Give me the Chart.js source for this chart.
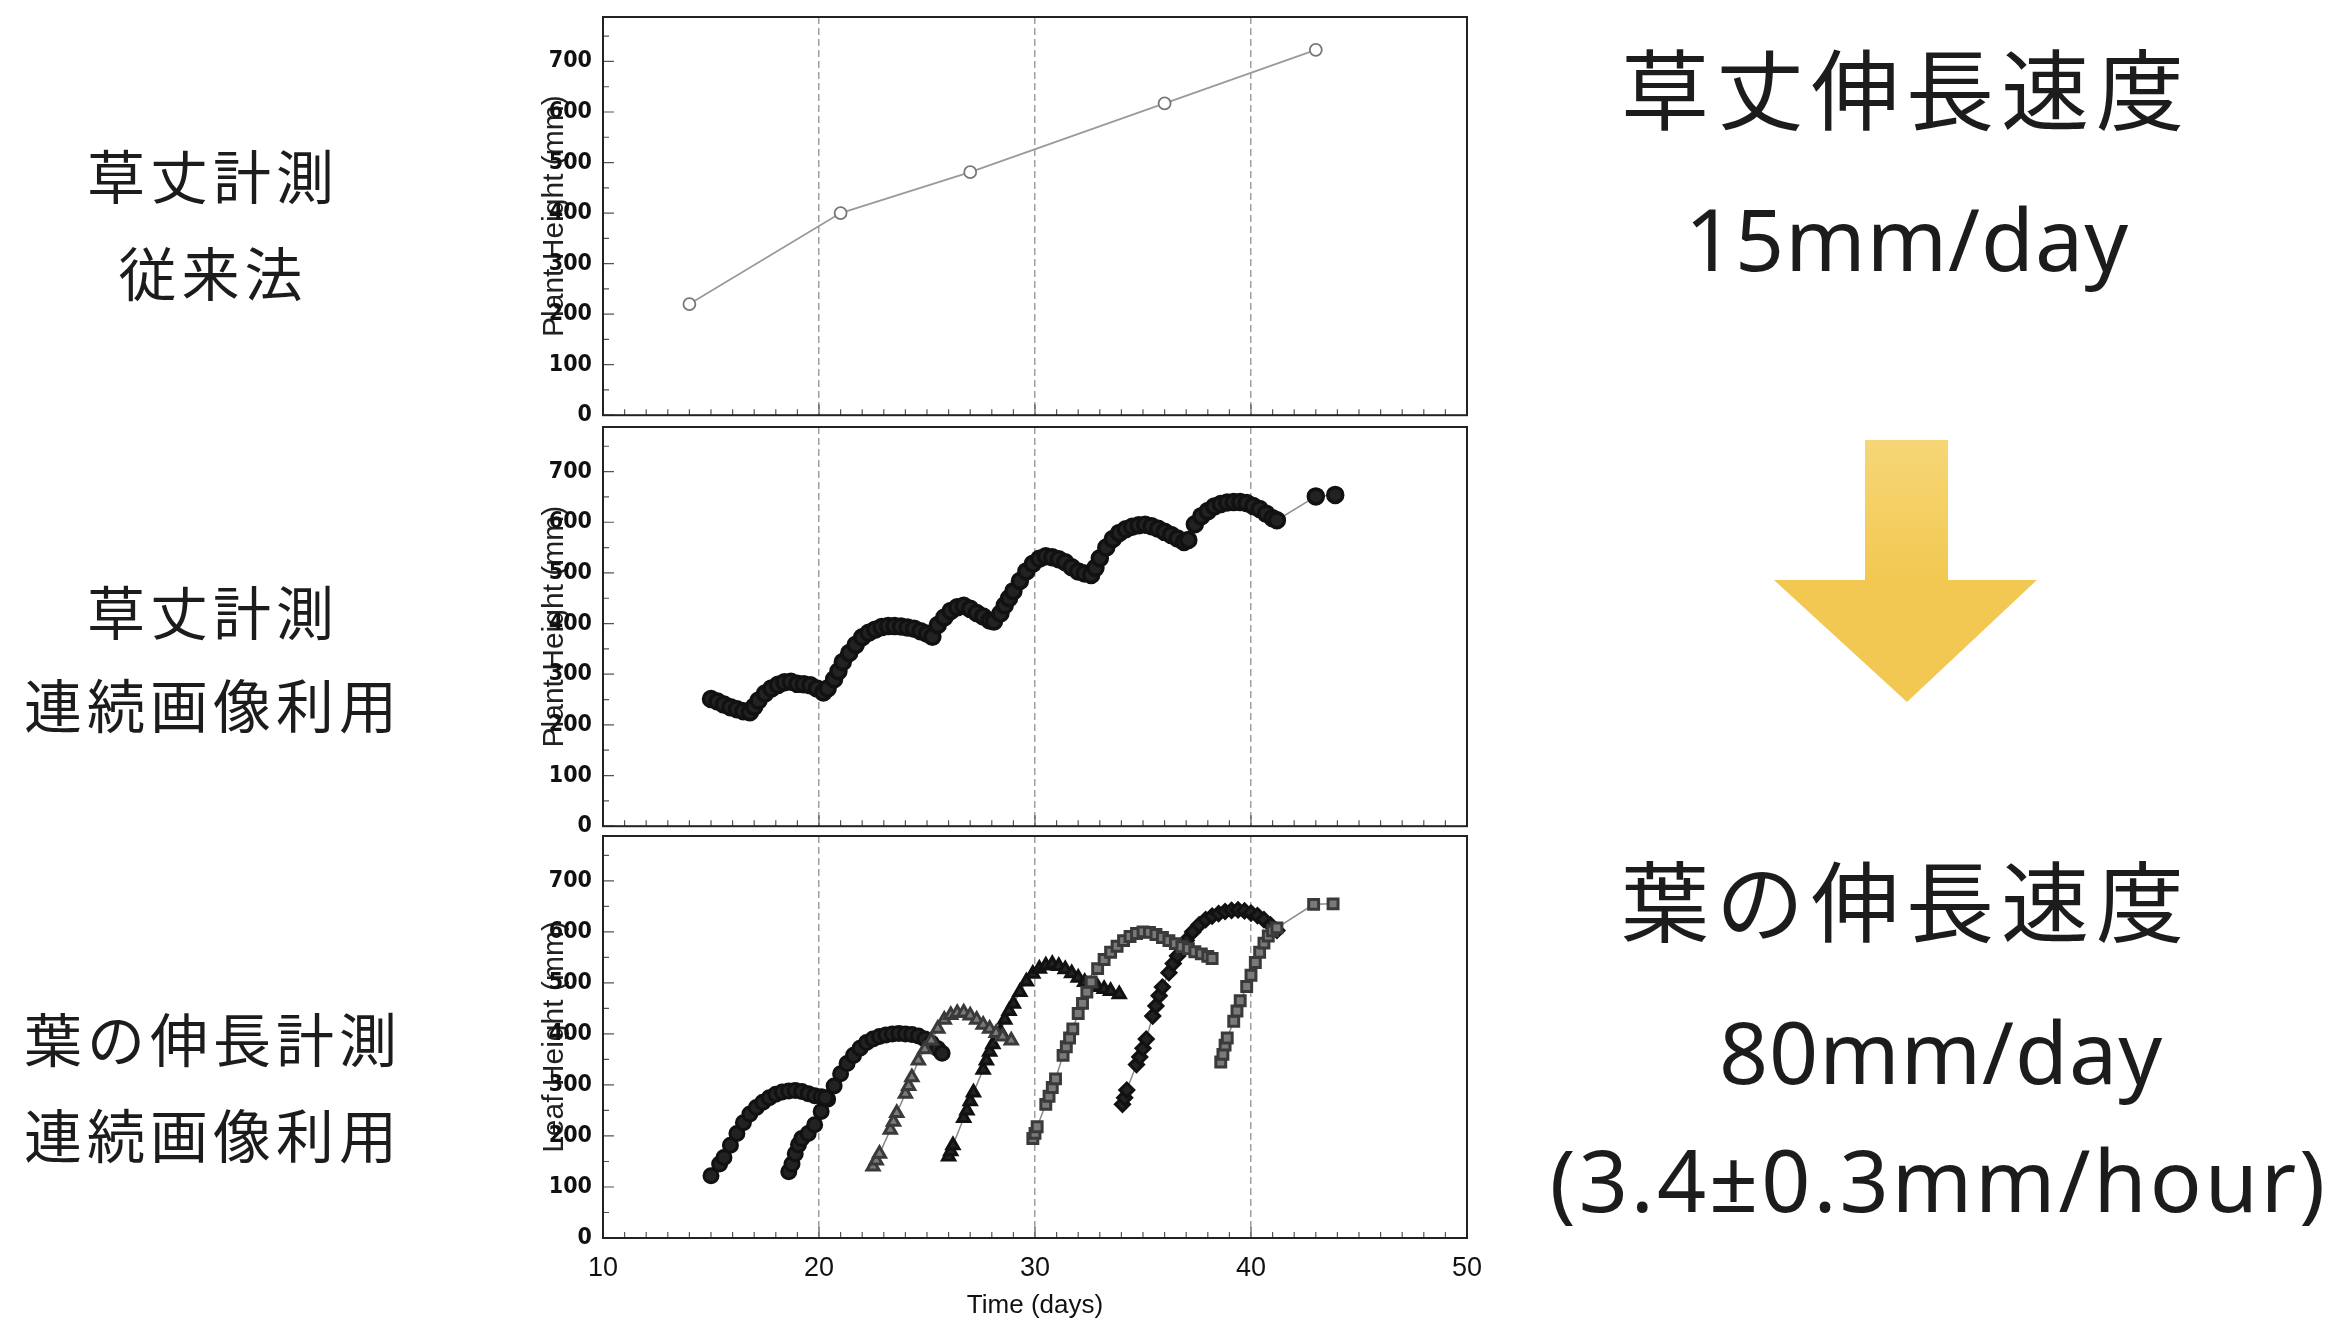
<!DOCTYPE html>
<html lang="ja">
<head>
<meta charset="utf-8">
<title>草丈・葉の伸長計測</title>
<script src="https://cdn.jsdelivr.net/npm/chart.js@4.4.1/dist/chart.umd.min.js"></script>
<style>
    html, body { margin: 0; padding: 0; background: #fff; }
    body {
        width: 2332px; height: 1321px; position: relative; overflow: hidden;
        font-family: "Noto Sans CJK JP", "Noto Sans", sans-serif; color: #1c1c1c;
    }
    canvas { position: absolute; }
    .lbl {
        position: absolute; line-height: 1; white-space: nowrap;
        transform: translate(-50%, -50%); text-align: center;
    }
    .side { font-size: 58px; letter-spacing: 5px; }
    .head { font-size: 88px; letter-spacing: 7px; }
    .rate { font-family: "Noto Sans", sans-serif; font-size: 86px; letter-spacing: 1px; }
    #arrow { position: absolute; left: 0; top: 0; }
</style>
</head>
<body>

<!-- 左側の見出し -->
<div class="lbl side" style="left:213px; top:174px;">草丈計測</div>
<div class="lbl side" style="left:213px; top:271px;">従来法</div>
<div class="lbl side" style="left:213px; top:610px;">草丈計測</div>
<div class="lbl side" style="left:213px; top:703px;">連続画像利用</div>
<div class="lbl side" style="left:213px; top:1037px;">葉の伸長計測</div>
<div class="lbl side" style="left:213px; top:1133px;">連続画像利用</div>

<!-- 右側の速度 -->
<div class="lbl head" style="left:1906px; top:85px;">草丈伸長速度</div>
<div class="lbl rate" style="left:1907px; top:238px;">15mm/day</div>
<div class="lbl head" style="left:1906px; top:897px;">葉の伸長速度</div>
<div class="lbl rate" style="left:1941px; top:1051px;">80mm/day</div>
<div class="lbl rate" style="left:1939px; top:1179px; letter-spacing:3px;">(3.4±0.3mm/hour)</div>

<svg id="arrow" width="2332" height="1321">
    <defs>
        <linearGradient id="gold" x1="0" y1="0" x2="0" y2="1">
            <stop offset="0" stop-color="#F6D677"/>
            <stop offset="1" stop-color="#F2C850"/>
        </linearGradient>
    </defs>
    <rect x="1865" y="440" width="83" height="142" fill="url(#gold)"/>
    <polygon points="1774,580 2037,580 1907,702" fill="#F2C852"/>
</svg>

<canvas id="chartManual" width="970" height="463" style="left:537px; top:-23px;"></canvas>
<canvas id="chartImage" width="970" height="464" style="left:537px; top:387px;"></canvas>
<canvas id="chartLeaf" width="970" height="525" style="left:537px; top:796px;"></canvas>

<script>
// 軸の目盛り
const xTickValues = [10, 20, 30, 40, 50];
const yTickValues = [0, 100, 200, 300, 400, 500, 600, 700];

// 草丈計測（従来法）
const manualDays = [14, 21, 27, 36, 43];
const manualHeight = [220, 400, 481, 617, 723];

// 草丈計測（連続画像利用）
const imageDays = [
    15.0, 15.3, 15.6, 15.9, 16.2, 16.5, 16.8, 17.0, 17.2, 17.5, 17.8, 18.1, 18.4, 18.7, 19.0, 19.3,
    19.6, 19.9, 20.2, 20.4, 20.7, 20.9, 21.1, 21.4, 21.7, 22.0, 22.3, 22.6, 22.9, 23.2, 23.5, 23.8,
    24.1, 24.4, 24.7, 25.0, 25.25, 25.5, 25.8, 26.1, 26.4, 26.7, 27.0, 27.3, 27.6, 27.9, 28.1, 28.4,
    28.6, 28.8, 29.0, 29.3, 29.6, 29.9, 30.2, 30.5, 30.8, 31.1, 31.4, 31.7, 32.0, 32.3, 32.6, 32.8,
    33.0, 33.3, 33.6, 33.9, 34.2, 34.5, 34.8, 35.1, 35.4, 35.7, 36.0, 36.3, 36.6, 36.9, 37.1, 37.4,
    37.7, 38.0, 38.3, 38.6, 38.9, 39.2, 39.5, 39.8, 40.1, 40.4, 40.7, 41.0, 41.2, 43.0, 43.9
];
const imageHeight = [
    251, 246, 240, 235, 231, 227, 225, 236, 248, 262, 272, 279, 284, 285, 281, 280,
    278, 272, 264, 272, 290, 306, 324, 342, 358, 373, 382, 388, 393, 395, 395, 394,
    392, 390, 385, 380, 374, 397, 412, 425, 432, 435, 429, 421, 414, 406, 404, 420,
    436, 450, 464, 484, 503, 518, 528, 533, 531, 527, 521, 511, 503, 499, 496, 510,
    529, 550, 567, 579, 586, 591, 594, 595, 592, 587, 581, 575, 568, 561, 565, 596,
    612, 622, 631, 636, 639, 640, 640, 638, 632, 626, 617, 608, 604, 651, 654
];

// 葉の伸長計測（葉ごと）
const leaf1Days = [15.0, 15.4, 15.6, 15.9, 16.2, 16.5, 16.8, 17.1, 17.4, 17.7, 18.0, 18.3, 18.6, 18.9, 19.2, 19.5, 19.8, 20.1, 20.3];
const leaf1Len  = [122, 145, 158, 182, 205, 226, 243, 256, 266, 275, 282, 286, 288, 289, 287, 283, 279, 277, 275];

const leaf2Days = [18.6, 18.75, 18.9, 19.05, 19.2, 19.5, 19.8, 20.1, 20.4, 20.7, 21.0, 21.3, 21.6, 21.9, 22.2, 22.5, 22.8, 23.1, 23.4, 23.7, 24.0, 24.3, 24.6, 24.9, 25.2, 25.5, 25.7];
const leaf2Len  = [130, 145, 165, 183, 195, 205, 222, 248, 272, 298, 322, 342, 358, 372, 383, 390, 395, 398, 400, 401, 400, 399, 396, 390, 382, 371, 362];

const leaf3Days = [22.5, 22.65, 22.8, 23.3, 23.45, 23.6, 24.0, 24.15, 24.3, 24.6, 24.9, 25.2, 25.5, 25.8, 26.1, 26.4, 26.7, 27.0, 27.3, 27.6, 27.9, 28.2, 28.5, 28.9];
const leaf3Len  = [140, 152, 165, 212, 228, 245, 283, 298, 315, 348, 370, 387, 410, 428, 437, 441, 442, 436, 428, 418, 410, 402, 395, 387];

const leaf4Days = [26.0, 26.1, 26.2, 26.7, 26.85, 27.0, 27.15, 27.6, 27.75, 27.9, 28.05, 28.4, 28.6, 28.8, 29.0, 29.3, 29.6, 29.9, 30.2, 30.5, 30.8, 31.1, 31.4, 31.7, 32.0, 32.3, 32.6, 32.9, 33.2, 33.5, 33.9];
const leaf4Len  = [160, 170, 182, 235, 250, 268, 285, 330, 348, 365, 380, 405, 428, 445, 459, 482, 503, 518, 528, 534, 537, 533, 527, 519, 510, 502, 497, 492, 488, 484, 478];

const leaf5Days = [29.9, 30.0, 30.1, 30.5, 30.65, 30.8, 30.95, 31.3, 31.45, 31.6, 31.75, 32.0, 32.2, 32.4, 32.6, 32.9, 33.2, 33.5, 33.8, 34.1, 34.4, 34.7, 35.0, 35.3, 35.6, 35.9, 36.2, 36.5, 36.8, 37.1, 37.4, 37.7, 38.0, 38.2];
const leaf5Len  = [195, 205, 218, 262, 278, 295, 312, 358, 375, 392, 410, 440, 460, 482, 502, 528, 546, 560, 572, 583, 591, 597, 600, 599, 595, 589, 583, 577, 571, 567, 561, 557, 552, 548];

const leaf6Days = [34.05, 34.15, 34.25, 34.7, 34.85, 35.0, 35.15, 35.45, 35.6, 35.75, 35.9, 36.2, 36.4, 36.6, 36.8, 37.0, 37.3, 37.6, 37.9, 38.2, 38.5, 38.8, 39.1, 39.4, 39.7, 40.0, 40.3, 40.6, 40.9, 41.2];
const leaf6Len  = [262, 275, 290, 340, 355, 372, 390, 435, 455, 475, 492, 520, 538, 553, 570, 583, 600, 614, 624, 631, 636, 640, 642, 643, 641, 637, 632, 624, 614, 603];

const leaf7Days = [38.6, 38.7, 38.8, 38.9, 39.2, 39.35, 39.5, 39.8, 40.0, 40.2, 40.4, 40.6, 40.8, 41.0, 41.2, 42.9, 43.8];
const leaf7Len  = [345, 360, 378, 392, 425, 445, 465, 493, 515, 540, 560, 578, 592, 602, 608, 654, 655];

function toPoints(xs, ys) {
    return xs.map((x, i) => ({ x: x, y: ys[i] }));
}

// 枠線と内向きの小目盛り
const framePlugin = {
    id: 'frame',
    afterDraw(chart) {
        const { ctx, chartArea: a, scales: { x, y } } = chart;
        ctx.save();
        ctx.strokeStyle = '#555';
        ctx.lineWidth = 1.2;
        ctx.beginPath();
        for (let d = 10; d <= 50; d++) {
            const px = x.getPixelForValue(d);
            const len = d % 10 === 0 ? 11 : 6;
            ctx.moveTo(px, a.bottom);
            ctx.lineTo(px, a.bottom - len);
        }
        for (let v = 0; v <= 750; v += 50) {
            const py = y.getPixelForValue(v);
            const len = v % 100 === 0 ? 11 : 6;
            ctx.moveTo(a.left, py);
            ctx.lineTo(a.left + len, py);
        }
        ctx.stroke();
        ctx.strokeStyle = '#222';
        ctx.lineWidth = 2;
        ctx.strokeRect(a.left, a.top, a.right - a.left, a.bottom - a.top);
        ctx.restore();
    }
};

function makePanel(id, datasets, yTitle, showX) {
    return new Chart(document.getElementById(id), {
        type: 'scatter',
        data: { datasets: datasets },
        options: {
            responsive: false,
            animation: false,
            devicePixelRatio: 1,
            layout: { padding: { top: 40, right: 40, left: 0, bottom: 0 } },
            plugins: { legend: { display: false }, tooltip: { enabled: false } },
            scales: {
                x: {
                    type: 'linear',
                    min: 10,
                    max: 50,
                    afterBuildTicks: s => { s.ticks = xTickValues.map(v => ({ value: v })); },
                    afterFit: s => { s.height = showX ? 83 : 22; },
                    grid: {
                        drawTicks: false,
                        lineWidth: 1.5,
                        color: c => (c.tick && [20, 30, 40].includes(c.tick.value)) ? '#a0a0a0' : 'rgba(0,0,0,0)'
                    },
                    border: { display: false, dash: [7, 4] },
                    ticks: {
                        display: showX,
                        padding: 14,
                        color: '#111',
                        font: { family: '"Liberation Sans", Arial, sans-serif', size: 27 }
                    },
                    title: {
                        display: showX,
                        text: 'Time (days)',
                        padding: 0,
                        color: '#111',
                        font: { family: '"Liberation Sans", Arial, sans-serif', size: 26 }
                    }
                },
                y: {
                    min: 0,
                    max: 788,
                    afterBuildTicks: s => { s.ticks = yTickValues.map(v => ({ value: v })); },
                    afterFit: s => { s.width = 66; },
                    grid: { display: false, drawTicks: false },
                    border: { display: false },
                    ticks: {
                        padding: 11,
                        color: '#111',
                        font: { family: '"Liberation Sans Narrow", "DejaVu Sans Condensed", sans-serif', size: 23, weight: 'bold' }
                    },
                    title: {
                        display: true,
                        text: yTitle,
                        padding: 0,
                        color: '#222',
                        font: { family: '"Liberation Sans", Arial, sans-serif', size: 30 }
                    }
                }
            }
        },
        plugins: [framePlugin]
    });
}

// 葉の系列スタイル
function leafSet(xs, ys, style, dark) {
    return {
        data: toPoints(xs, ys),
        showLine: true,
        borderColor: '#8a8a8a',
        borderWidth: 1.5,
        pointStyle: style,
        pointRadius: 7,
        pointBorderWidth: 3,
        pointBorderColor: dark ? '#111' : '#3a3a3a',
        pointBackgroundColor: dark ? '#222' : '#7a7a7a'
    };
}

document.addEventListener('DOMContentLoaded', function() {
    makePanel('chartManual', [{
        data: toPoints(manualDays, manualHeight),
        showLine: true,
        borderColor: '#9a9a9a',
        borderWidth: 1.8,
        pointRadius: 6,
        pointBorderWidth: 1.8,
        pointBorderColor: '#777',
        pointBackgroundColor: '#fff'
    }], 'Plant Height (mm)', false);

    makePanel('chartImage', [{
        data: toPoints(imageDays, imageHeight),
        showLine: true,
        borderColor: '#8a8a8a',
        borderWidth: 1.5,
        pointRadius: 7.5,
        pointBorderWidth: 3.5,
        pointBorderColor: '#111',
        pointBackgroundColor: '#222'
    }], 'Plant Height (mm)', false);

    makePanel('chartLeaf', [
        leafSet(leaf3Days, leaf3Len, 'triangle', false),
        leafSet(leaf5Days, leaf5Len, 'rect', false),
        leafSet(leaf7Days, leaf7Len, 'rect', false),
        leafSet(leaf1Days, leaf1Len, 'circle', true),
        leafSet(leaf2Days, leaf2Len, 'circle', true),
        leafSet(leaf4Days, leaf4Len, 'triangle', true),
        leafSet(leaf6Days, leaf6Len, 'rectRot', true)
    ], 'Leaf Height (mm)', true);
});
</script>
</body>
</html>
